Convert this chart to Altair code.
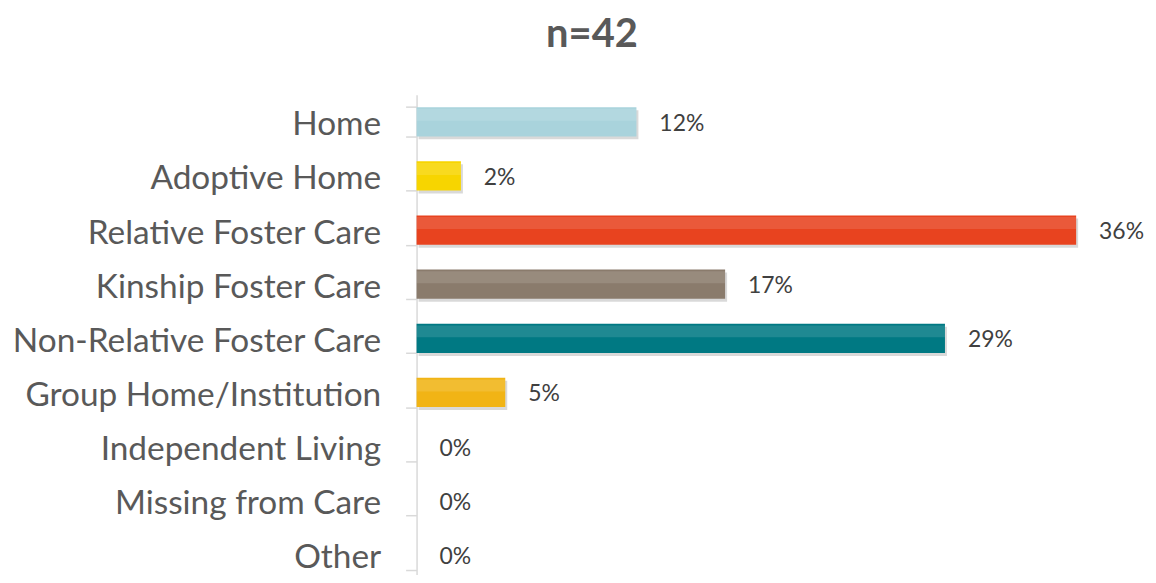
import altair as alt
import pandas as pd

categories = ["Home", "Adoptive Home", "Relative Foster Care", "Kinship Foster Care",
              "Non-Relative Foster Care", "Group Home/Institution", "Independent Living",
              "Missing from Care", "Other"]
values = [11.9, 2.4, 35.7, 16.7, 28.6, 4.8, 0, 0, 0]
labels = ["12%", "2%", "36%", "17%", "29%", "5%", "0%", "0%", "0%"]
colors = ["#a9d3dc", "#f7d500", "#e8431f", "#8a7b6c", "#007983", "#f1b415",
          "#ffffff", "#ffffff", "#ffffff"]
title_text = ["n=42"]

df = pd.DataFrame({"category": categories, "value": values, "label": labels, "color": colors})

x_enc = alt.X("value:Q", scale=alt.Scale(domain=[0, 37]), axis=None)
y_enc = alt.Y("category:N", sort=categories, title=None,
              scale=alt.Scale(range=[0, 489], paddingInner=0.46, paddingOuter=0.23),
              axis=alt.Axis(domainColor="#d9d9d9", domainWidth=1.5, tickColor="#d9d9d9",
                            tickWidth=1.5, tickSize=11, tickBand="extent", labelPadding=25,
                            labelFont="Lato", labelFontSize=33.5, labelColor="#595959",
                            labelOffset=3, grid=False, labelLimit=500))

base = alt.Chart(df).encode(y=y_enc)

shadow = base.transform_filter("datum.value > 0").mark_bar(
    color="#000000", opacity=0.15, xOffset=2, yOffset=3
).encode(x=x_enc)

bars = base.transform_filter("datum.value > 0").mark_bar().encode(
    x=x_enc, color=alt.Color("color:N", scale=None))

highlight = base.transform_filter("datum.value > 0").mark_bar(
    color="#ffffff", opacity=0.12, size=12, yOffset=-7
).encode(x=x_enc)

text = base.mark_text(align="left", baseline="middle", dx=23, dy=2, font="Lato",
                      fontSize=23, color="#404040").encode(x=x_enc, text="label:N")

title = alt.Chart(pd.DataFrame({"t": title_text})).mark_text(
    font="Lato", fontSize=40, fontWeight="bold", color="#595959",
    align="center", baseline="alphabetic"
).encode(text="t:N", x=alt.value(176), y=alt.value(-48))

chart = alt.layer(shadow, bars, highlight, text, title).properties(
    width=686, height=481,
    autosize=alt.AutoSizeParams(type="none"),
    padding={"left": 410, "top": 86, "right": 48, "bottom": 0},
).configure_view(stroke=None)

chart.save("out.html", embed_options={"renderer": "svg", "actions": False})
